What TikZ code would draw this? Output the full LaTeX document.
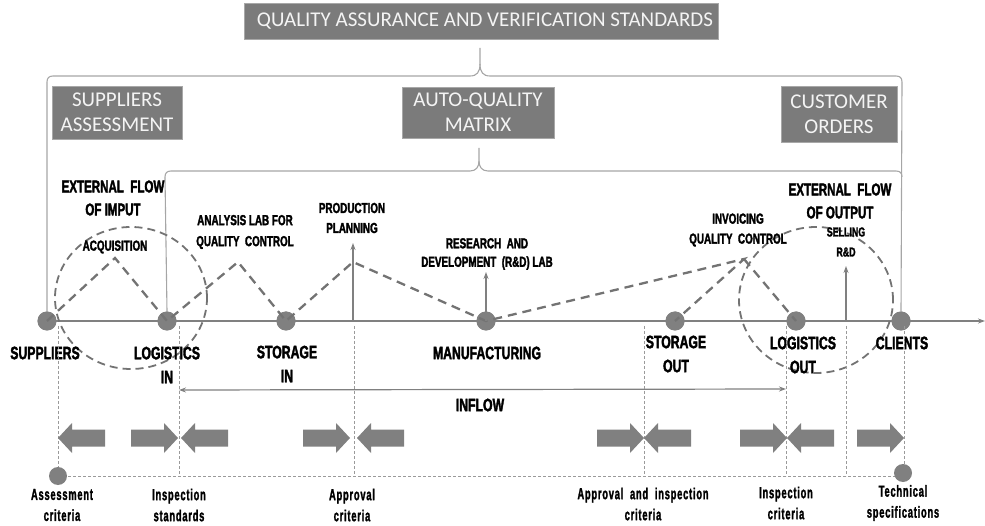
\documentclass[tikz,border=0pt]{standalone}
\usepackage{fontspec}
\newfontfamily\carl{Carlito}
\newfontfamily\condb[FakeStretch=0.68,FakeBold=2]{Liberation Sans Bold}
\newfontfamily\condl[FakeStretch=0.58,LetterSpace=5,FakeBold=1.5]{Liberation Sans Bold}
\definecolor{boxgray}{HTML}{7B7B7B}
\definecolor{boxline}{HTML}{A8A8A8}
\definecolor{boxtext}{HTML}{F4F4F4}
\definecolor{nodegray}{HTML}{808080}
\definecolor{zig}{HTML}{737373}
\definecolor{bracec}{HTML}{A6A6A6}
\definecolor{dotc}{HTML}{9A9A9A}
\tikzset{
  gbox/.style={fill=boxgray,draw=boxline,line width=0.8pt,text=boxtext,align=center,
    font=\carl\fontsize{21}{25}\selectfont,inner sep=0pt},
  stage/.style={circle,fill=nodegray,minimum size=19pt,inner sep=0pt},
  mainlab/.style={font=\condb\fontsize{18}{24}\selectfont,align=center,inner sep=0pt},
  midlab/.style={font=\condb\fontsize{17}{23}\selectfont,align=center,inner sep=0pt},
  smalllab/.style={font=\condb\fontsize{14.5}{20}\selectfont,align=center,inner sep=0pt},
  botlab/.style={font=\condl\fontsize{16}{21}\selectfont,align=center,inner sep=0pt},
  zigline/.style={draw=zig,line width=2.3pt,dash pattern=on 9pt off 6pt},
  circline/.style={draw=zig,line width=1.8pt,dash pattern=on 8pt off 5pt},
  dotline/.style={draw=dotc,line width=0.8pt,dash pattern=on 3pt off 2pt},
  bracel/.style={draw=bracec,line width=1.1pt},
  upar/.style={draw=nodegray,line width=1.4pt,-{Stealth[length=7pt,width=5pt]}},
  rarrow/.pic={\fill[nodegray] (0,0) -- (-14,-15) -- (-14,-8.5) -- (-47,-8.5) -- (-47,8.5) -- (-14,8.5) -- (-14,15) -- cycle;},
  larrow/.pic={\fill[nodegray] (0,0) -- (14,-15) -- (14,-8.5) -- (47,-8.5) -- (47,8.5) -- (14,8.5) -- (14,15) -- cycle;}
}
\usetikzlibrary{arrows.meta}
\begin{document}
\begin{tikzpicture}[x=1pt,y=-1pt]
\useasboundingbox (0,0) rectangle (985,526);
% boxes
\node[gbox,minimum width=474pt,minimum height=36pt] (qa) at (481,21) {\hspace{8pt}QUALITY ASSURANCE AND VERIFICATION STANDARDS};
\node[gbox,minimum width=130pt,minimum height=53pt] (sa) at (117,112.5) {SUPPLIERS\\ASSESSMENT};
\node[gbox,minimum width=152pt,minimum height=51pt] (aq) at (478,112.5) {AUTO-QUALITY\\MATRIX};
\node[gbox,minimum width=116pt,minimum height=56pt] (co) at (839,114) {CUSTOMER\\ORDERS};
% axis
\coordinate (axend) at (985,321);
\node[stage] (sup) at (47,321) {};
\node[stage] (login) at (167,321) {};
\node[stage] (storin) at (286,321) {};
\node[stage] (manu) at (486,321) {};
\node[stage] (storout) at (675,321) {};
\node[stage] (logout) at (796,321) {};
\node[stage] (cli) at (901,321) {};
\draw[draw=nodegray,line width=1.4pt,-{Stealth[length=7pt,width=5pt]}] (sup.center) -- (axend);
% braces
\draw[bracel] (sup.north) -- (47,82) .. controls (47,78) and (49,76) .. (53,76) -- (470,76)
  .. controls (477,76) and (480,72) .. (480,64) -- (480,48);
\draw[bracel] (480,64) .. controls (480,72) and (483,76) .. (490,76) -- (896,76)
  .. controls (900,76) and (902,78) .. (902,82) -- (cli.north);
\draw[bracel] (login.north) -- (165,177) .. controls (165,173) and (167,171) .. (171,171) -- (470,171)
  .. controls (476,171) and (479,167) .. (479,161) -- (479,148);
\draw[bracel] (479,161) .. controls (479,167) and (482,171) .. (488,171) -- (896,171)
  .. controls (900,171) and (902,173) .. (902,177);
% stage nodes on top
\foreach \n in {sup,login,storin,manu,storout,logout,cli} \fill[nodegray] (\n) circle (9.5pt);
% zigzag
\coordinate (p1) at (115,258);
\coordinate (p2) at (238,262);
\coordinate (p3) at (353,262);
\coordinate (p4) at (744,259);
\draw[zigline] (sup.center) -- (p1) -- (login.center) -- (p2) -- (storin.center) -- (p3) -- (manu.center) -- (p4) -- (storout.center);
\draw[zigline] (p4) -- (logout.center);
% up arrows
\coordinate (ppa) at (353,243);
\coordinate (rda) at (486,272);
\coordinate (sra) at (846,266);
\draw[upar] (353,321) -- (ppa);
\draw[upar] (manu.center) -- (rda);
\draw[upar] (846,321) -- (sra);
% dashed circles
\draw[circline] (131,298) ellipse (76pt and 71pt);
\draw[circline] (816,300) ellipse (77pt and 73pt);
% labels upper
\node[midlab] (efi) at (113,198) {EXTERNAL\ \ FLOW\\OF IMPUT};
\node[smalllab] (acq) at (115,247) {ACQUISITION};
\node[smalllab,font=\condb\fontsize{14.5}{21}\selectfont] (alab) at (245,232) {ANALYSIS LAB FOR\\QUALITY\ \ CONTROL};
\node[smalllab] (pp) at (352,218) {PRODUCTION\\PLANNING};
\node[smalllab,font=\condb\fontsize{14.5}{18.5}\selectfont] (rd) at (487,254) {RESEARCH\ \ AND\\DEVELOPMENT\ \ (R\&D) LAB};
\node[smalllab] (inv) at (738,230) {INVOICING\\QUALITY\ \ CONTROL};
\node[midlab] (efo) at (840,201) {EXTERNAL\ \ FLOW\\OF OUTPUT};
\node[smalllab,font=\condb\fontsize{13}{20}\selectfont] (sell) at (846,242) {SELLING\\R\&D};
% main labels
\node[mainlab] (lsup) at (45,353) {SUPPLIERS};
\node[mainlab] (llogin) at (167,365) {LOGISTICS\\IN};
\node[mainlab] (lstorin) at (287,364) {STORAGE\\IN};
\node[mainlab] (lmanu) at (487,353) {MANUFACTURING};
\node[mainlab] (lstorout) at (676,354) {STORAGE\\OUT};
\node[mainlab] (llogout) at (803,355) {LOGISTICS\\OUT};
\node[mainlab] (lcli) at (902,343) {CLIENTS};
% inflow
\coordinate (inL) at (179,390);
\coordinate (inR) at (786,389);
\draw[draw=nodegray,line width=1.2pt,{Stealth[length=7pt,width=5pt]}-{Stealth[length=7pt,width=5pt]}] (inL) -- (inR);
\node[mainlab] (lin) at (480,405) {INFLOW};
% dotted lines
\coordinate (b1) at (58,476);
\coordinate (b7) at (903,473);
\foreach \x in {58,179,354,644,786,846,904} \draw[dotline] (\x,326) -- (\x,476);
\draw[dotline] (b1) -- (895,476);
\fill[nodegray] (b1) circle (9pt);
\fill[nodegray] (b7) circle (9pt);
% block arrows
\pic at (58,438) {larrow};
\pic at (178,438) {rarrow};
\pic at (181,438) {larrow};
\pic at (350,438) {rarrow};
\pic at (357,438) {larrow};
\pic at (644,438) {rarrow};
\pic at (644,438) {larrow};
\pic at (787,438) {rarrow};
\pic at (787,438) {larrow};
\pic at (904,438) {rarrow};
% bottom labels
\node[botlab] (c1) at (62,505) {Assessment\\criteria};
\node[botlab] (c2) at (179,505) {Inspection\\standards};
\node[botlab] (c3) at (352,505) {Approval\\criteria};
\node[botlab] (c4) at (643,504) {Approval\ \ and\ \ inspection\\criteria};
\node[botlab] (c5) at (786,503) {Inspection\\criteria};
\node[botlab] (c6) at (903,503) {Technical\\specifications};
\end{tikzpicture}
\end{document}
